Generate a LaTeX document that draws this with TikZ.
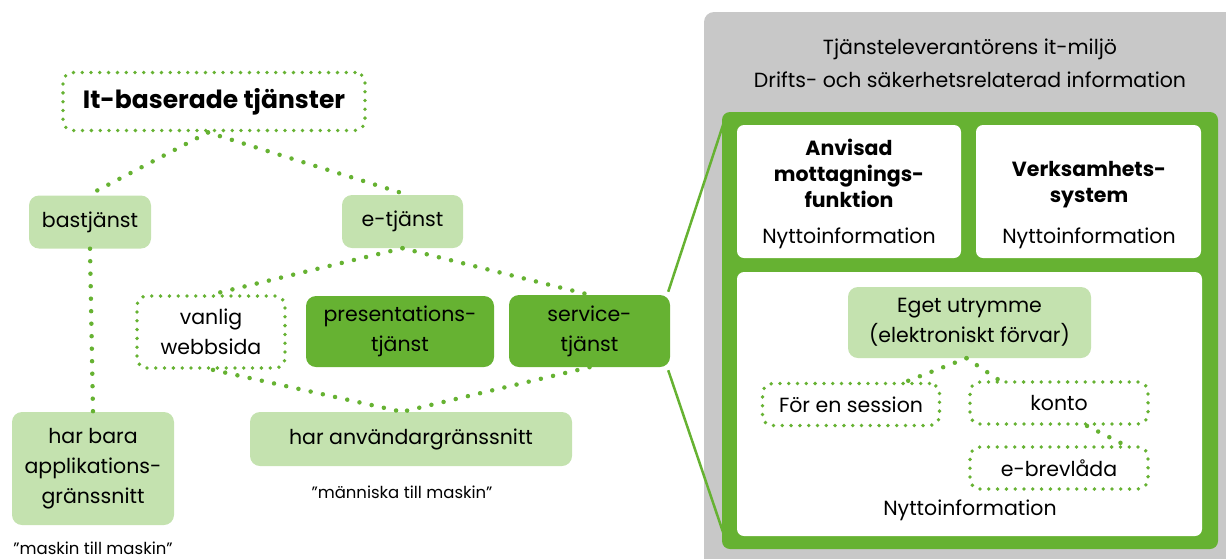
\documentclass[tikz,border=0pt]{standalone}
\usepackage{fontspec}
\setmainfont{Poppins}
\usetikzlibrary{calc}
\definecolor{lgreen}{HTML}{C4E2AF}
\definecolor{dgreen}{HTML}{66B232}
\definecolor{panelgrey}{HTML}{C8C8C8}
\newcommand{\sq}{\char"0022\relax}
\tikzset{
  base/.style={rounded corners=10pt, inner sep=0pt, align=center, font=\fontsize{20.5}{30}\selectfont, text=black},
  lightbox/.style={base, fill=lgreen},
  darkbox/.style={base, fill=dgreen},
  dotbox/.style={base, fill=white, draw=dgreen, line width=3.8pt, line cap=round, dash pattern=on 0pt off 8.8pt},
  dotline/.style={draw=dgreen, line width=4.5pt, line cap=round, dash pattern=on 0pt off 12.5pt},
  whitebox/.style={fill=white, rounded corners=7pt},
  lbl/.style={inner sep=0pt, align=center, font=\fontsize{20.5}{26}\selectfont, text=black},
  blbl/.style={inner sep=0pt, align=center, font=\fontsize{20.5}{26}\selectfont\bfseries, text=black},
  quote/.style={inner sep=0pt, font=\fontsize{16.5}{18}\selectfont, text=black},
}
\begin{document}
\begin{tikzpicture}[x=1pt,y=-1pt]
\useasboundingbox (0,0) rectangle (1226,558);
% right panels
\fill[panelgrey, rounded corners=10pt] (704,12) rectangle (1250,580);
\fill[dgreen, rounded corners=8pt] (722,112) rectangle (1218,549);
\fill[whitebox] (737,125) rectangle (961,258);
\fill[whitebox] (976,125) rectangle (1201,258);
\fill[whitebox] (737,272) rectangle (1202,536);
\node[lbl, font=\fontsize{20.5}{33}\selectfont] (title) at (970,63.5) {Tjänsteleverantörens it-miljö\\Drifts- och säkerhetsrelaterad information};
\node[blbl] (amf) at (849,173) {Anvisad\\mottagnings-\\funktion};
\node[lbl] (n1) at (849,238) {Nyttoinformation};
\node[blbl] (vs) at (1089,185) {Verksamhets-\\system};
\node[lbl] (n2) at (1089,238) {Nyttoinformation};
\node[lbl] (n3) at (970,510) {Nyttoinformation};
\node[lightbox, minimum width=243pt, minimum height=71pt] (eget) at (969.5,322.5) {Eget utrymme\\(elektroniskt förvar)};
\node[dotbox, minimum width=177pt, minimum height=42pt] (fes) at (851,404.5) {För en session};
\node[dotbox, minimum width=178pt, minimum height=42pt] (konto) at (1059,403) {konto};
\node[dotbox, minimum width=178pt, minimum height=42pt] (ebr) at (1059,468) {e-brevlåda};
\draw[dotline] ([xshift=-3pt]eget.south) -- ([xshift=55pt]fes.north);
\draw[dotline] ([xshift=-3pt]eget.south) -- ([xshift=-60pt]konto.north);
\draw[dotline] ([xshift=28pt]konto.south) -- ([xshift=66pt]ebr.north);
% left tree
\node[dotbox, minimum width=302pt, minimum height=58pt, font=\fontsize{25}{28}\selectfont\bfseries] (itb) at (214,101.5) {It-baserade tjänster};
\node[lightbox, minimum width=122pt, minimum height=53pt] (bas) at (90,222) {bastjänst};
\node[lightbox, minimum width=121pt, minimum height=53pt] (etj) at (402.5,221.5) {e-tjänst};
\node[dotbox, minimum width=148pt, minimum height=72pt] (van) at (211,332) {vanlig\\webbsida};
\node[darkbox, minimum width=188pt, minimum height=71pt] (pres) at (400,331.5) {presentations-\\tjänst};
\node[darkbox, minimum width=161pt, minimum height=72pt] (serv) at (589.5,331) {service-\\tjänst};
\node[lightbox, minimum width=322pt, minimum height=54pt] (hau) at (411,439) {har användargränssnitt};
\node[lightbox, minimum width=162pt, minimum height=113pt] (hba) at (93,468.5) {har bara\\applikations-\\gränssnitt};
\node[quote] (q1) at (402,492) {\sq människa till maskin\sq};
\node[quote] (q2) at (93,548) {\sq maskin till maskin\sq};
\draw[dotline] ([xshift=-6pt]itb.south) -- ([xshift=-2pt]bas.north);
\draw[dotline] ([xshift=-6pt]itb.south) -- ([xshift=5pt]etj.north);
\draw[dotline] (bas.south) -- ([xshift=0pt]hba.north);
\draw[dotline] (etj.south) -- ([xshift=2pt]van.north);
\draw[dotline] (etj.south) -- (serv.north);
\draw[dotline] ([xshift=2pt]van.south) -- ([xshift=-9pt]hau.north);
\draw[dotline] (serv.south) -- ([xshift=-9pt]hau.north);
% link to environment
\coordinate (gtop) at (724,122);
\coordinate (gbot) at (724,535);
\draw[dgreen, line width=2.5pt] ([xshift=-2pt,yshift=3pt]serv.north east) -- (gtop);
\draw[dgreen, line width=2.5pt] ([xshift=-2pt,yshift=-3pt]serv.south east) -- (gbot);
\end{tikzpicture}
\end{document}
